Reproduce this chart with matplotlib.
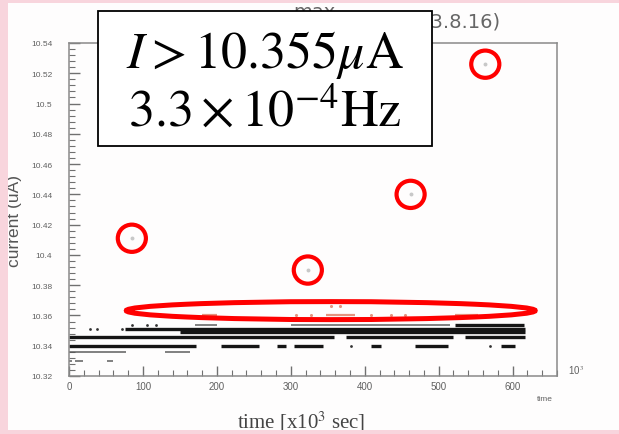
import matplotlib.pyplot as plt
from matplotlib.patches import Ellipse, Rectangle
from matplotlib.ticker import MultipleLocator, FuncFormatter

plt.rcParams['mathtext.fontset'] = 'stix'
plt.rcParams['font.family'] = ['Liberation Sans', 'DejaVu Sans']

# digitized current readings [uA] vs time [x10^3 s], stored as runs of one level
dense_level = [10.340, 10.340, 10.340, 10.340, 10.340, 10.340, 10.340,
               10.346, 10.346, 10.346, 10.349, 10.351, 10.354]
dense_start = [0, 206, 281, 304, 409, 468, 584, 0, 375, 535, 150, 76, 522]
dense_end = [172, 257, 293, 344, 422, 513, 603, 358, 519, 617, 617, 617, 616]

faint_level = [10.330, 10.330, 10.330, 10.336, 10.336, 10.354, 10.354]
faint_start = [0, 8, 52, 0, 130, 170, 300]
faint_end = [4, 19, 59, 77, 163, 200, 515]

dot_t = [28, 38, 72, 85, 106, 118, 381, 570]
dot_i = [10.351, 10.351, 10.351, 10.354, 10.354, 10.354, 10.340, 10.340]

# readings above threshold
hot_level = [10.360, 10.360, 10.360]
hot_start = [180, 348, 522]
hot_end = [200, 387, 553]
hot_t = [307, 327, 354, 367, 409, 436, 455]
hot_i = [10.360, 10.360, 10.366, 10.366, 10.360, 10.360, 10.360]

# isolated spikes
spike_t = [85, 323, 462, 563]
spike_i = [10.411, 10.390, 10.440, 10.526]

threshold = '10.355'
rate = '3.3'
rate_exp = '-4'

W, H = 619, 435
fig = plt.figure(figsize=(W / 100, H / 100), dpi=100, facecolor='#fefdfd')
ax = fig.add_axes([69 / W, (H - 377) / H, (557 - 69) / W, (377 - 44) / H])
ax.set_facecolor('#fefdfd')

grey = '#606060'
ax.hlines(faint_level, faint_start, faint_end, color='#555555', lw=1.3, alpha=0.8)
ax.hlines(dense_level, dense_start, dense_end, color='#151515', lw=2.4)
ax.scatter(dot_t, dot_i, s=4, color='#333333', lw=0)
ax.hlines(hot_level, hot_start, hot_end, color='#e49480', lw=1.6)
ax.scatter(hot_t, hot_i, s=5, color='#e49480', lw=0)
ax.scatter(spike_t, spike_i, s=8, color='#c8c8c8', lw=0)

# red markings around the spikes and the band above threshold
for t, i in zip(spike_t, spike_i):
    ax.add_patch(Ellipse((t, i), 38, 0.018, fill=False, ec='#ff0000', lw=3,
                         clip_on=False, zorder=6))
ax.add_patch(Ellipse((354, 10.3632), 553, 0.0119, fill=False, ec='#ff0000',
                     lw=3.6, clip_on=False, zorder=6))

ax.set_xlim(0, 660)
ax.set_ylim(10.32, 10.54)
ax.xaxis.set_major_locator(MultipleLocator(100))
ax.xaxis.set_minor_locator(MultipleLocator(20))
ax.yaxis.set_major_locator(MultipleLocator(0.02))
ax.yaxis.set_minor_locator(MultipleLocator(0.004))
ax.yaxis.set_major_formatter(FuncFormatter(lambda v, p: f'{round(v, 3):g}'))
ax.tick_params(which='both', direction='in', top=False, right=False, color='#707070')
ax.tick_params(axis='y', which='major', length=8, width=1, labelsize=6,
               labelcolor=grey, pad=12)
ax.tick_params(axis='y', which='minor', length=4, width=0.8)
ax.tick_params(axis='x', which='major', length=7, width=1, labelsize=7,
               labelcolor=grey, pad=3.5)
ax.tick_params(axis='x', which='minor', length=4, width=0.8)
for s in ax.spines.values():
    s.set_color('#8a8a8a')
    s.set_linewidth(1.1)

ax.text(-0.111, 0.468, 'current (uA)', rotation=90, ha='center', va='center',
        fontsize=12.5, color='#555555', transform=ax.transAxes)
ax.text(0.475, -0.135, r'time [x10$^{3}$ sec]', ha='center', va='center',
        fontsize=15, color='#444444', family='Liberation Serif',
        transform=ax.transAxes)
ax.text(1.022, 0.018, r'10$^{3}$', ha='left', va='center', fontsize=7,
        color=grey, transform=ax.transAxes)
ax.text(0.975, -0.069, 'time', ha='center', va='center', fontsize=6,
        color=grey, transform=ax.transAxes)

# slide overlay in pixel coordinates
ov = fig.add_axes([0, 0, 1, 1], zorder=10)
ov.set_xlim(0, W)
ov.set_ylim(H, 0)
ov.axis('off')
ov.patch.set_alpha(0)

ov.text(314, 18, 'max', ha='center', va='baseline', fontsize=14, color='#666666',
        family='DejaVu Sans', zorder=1)
ov.text(386, 27, '(2013.8.16)', ha='left', va='baseline', fontsize=14,
        color='#666666', family='DejaVu Sans', zorder=1)

ov.add_patch(Rectangle((98, 12), 334, 135, fc='white', ec='black', lw=1.3, zorder=2))
ov.text(265, 68, rf'$I > {threshold}\mu\mathrm{{A}}$', ha='center', va='baseline',
        fontsize=37.5, zorder=3)
ov.text(265, 127, rf'${rate} \times 10^{{{rate_exp}}}\mathrm{{Hz}}$', ha='center',
        va='baseline', fontsize=37.5, zorder=3)

pink = '#f8d5dd'
ov.add_patch(Rectangle((0, 0), 8, H, fc=pink, ec='none', zorder=4))
ov.add_patch(Rectangle((0, 0), W, 4, fc=pink, ec='none', zorder=4))
ov.add_patch(Rectangle((0, 431), W, 4, fc=pink, ec='none', zorder=4))

fig.savefig('out.png', dpi=100, facecolor=fig.get_facecolor())
